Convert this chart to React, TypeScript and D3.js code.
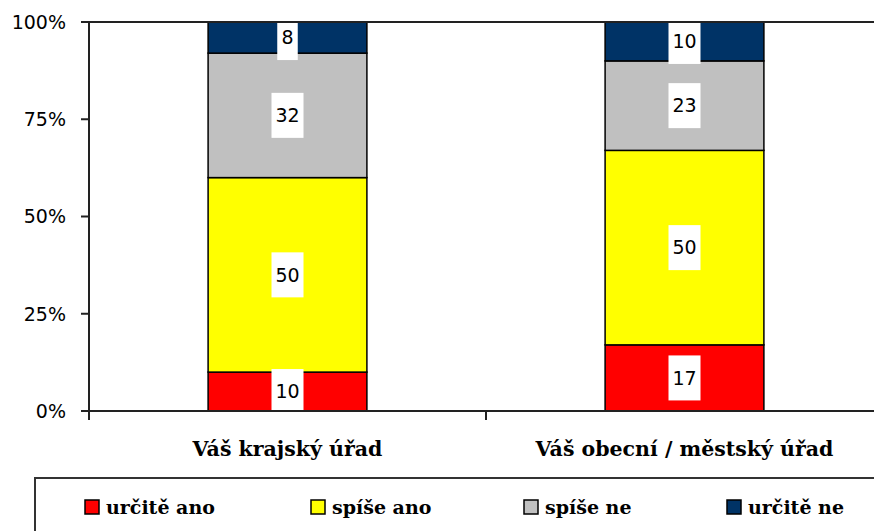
import React from "react";
import * as d3 from "d3";

const categories = ["Váš krajský úřad", "Váš obecní / městský úřad"];
const seriesNames = ["určitě ano", "spíše ano", "spíše ne", "určitě ne"];
const seriesColors = ["#FF0000", "#FFFF00", "#C0C0C0", "#003366"];
const values = [
  [10, 50, 32, 8],
  [17, 50, 23, 10],
];
const yTicks = [0, 25, 50, 75, 100];

const W = 874;
const H = 531;
const left = 89;
const right = 883;
const top = 22;
const bottom = 411;

export default function App() {
  const x = d3.scaleBand<string>().domain(categories).range([left, right]).paddingInner(0.6).paddingOuter(0.3);
  const y = d3.scaleLinear().domain([0, 100]).range([bottom, top]);
  const step = x.step();

  const stacks = categories.map((c, ci) => {
    let acc = 0;
    return values[ci].map((v, si) => {
      const y0 = acc;
      acc += v;
      return { c, si, v, y0, y1: acc };
    });
  });

  const labelFont = "DejaVu Sans, sans-serif";
  const serifFont = "DejaVu Serif, serif";
  const legendX = [85, 311, 524, 727];

  return (
    <svg width={W} height={H} style={{ position: "absolute", left: 0, top: 0, background: "#fff" }}>
      <defs>
        <clipPath id="plotclip">
          <rect x={left} y={top} width={W - left} height={bottom - top} />
        </clipPath>
      </defs>
      {/* bars */}
      {stacks.map((segs, ci) => (
        <g key={ci}>
          {segs.map((s) => (
            <rect
              key={s.si}
              x={x(s.c)!}
              y={y(s.y1)}
              width={x.bandwidth()}
              height={y(s.y0) - y(s.y1)}
              fill={seriesColors[s.si]}
              stroke="#000"
              strokeWidth={1.5}
            />
          ))}
        </g>
      ))}
      {/* labels */}
      <g clipPath="url(#plotclip)">
        {stacks.map((segs, ci) =>
          segs.map((s) => {
            const cx = x(s.c)! + x.bandwidth() / 2;
            const cy = (y(s.y0) + y(s.y1)) / 2;
            const txt = String(s.v);
            const bw = txt.length * 11.5 + 9;
            return (
              <g key={ci + "-" + s.si}>
                <rect x={cx - bw / 2} y={cy - 22.5} width={bw} height={45} fill="#fff" />
                <text x={cx} y={cy} dy="0.36em" textAnchor="middle" fontFamily={labelFont} fontSize={19} fill="#000">
                  {txt}
                </text>
              </g>
            );
          })
        )}
      </g>
      {/* plot top border */}
      <line x1={left} x2={W} y1={top} y2={top} stroke="#222" strokeWidth={2} />
      {/* y axis */}
      <line x1={left} x2={left} y1={top} y2={bottom + 9} stroke="#222" strokeWidth={2} />
      {yTicks.map((t) => (
        <g key={t}>
          <line x1={left - 8} x2={left} y1={y(t)} y2={y(t)} stroke="#222" strokeWidth={2} />
          <text x={66} y={y(t)} dy="0.36em" textAnchor="end" fontFamily={labelFont} fontSize={19} fill="#000">
            {t}%
          </text>
        </g>
      ))}
      {/* x axis */}
      <line x1={left - 8} x2={W} y1={bottom} y2={bottom} stroke="#222" strokeWidth={2} />
      {categories.map((c, i) => (
        <line key={"t" + i} x1={left + step * (i + 1)} x2={left + step * (i + 1)} y1={bottom} y2={bottom + 9} stroke="#222" strokeWidth={2} />
      ))}
      {categories.map((c) => (
        <text
          key={c}
          x={x(c)! + x.bandwidth() / 2}
          y={456}
          textAnchor="middle"
          fontFamily={serifFont}
          fontWeight="bold"
          fontSize={20.5}
          fill="#000"
        >
          {c}
        </text>
      ))}
      {/* legend */}
      <rect x={35} y={478} width={W} height={80} fill="#fff" stroke="#333" strokeWidth={2} />
      {seriesNames.map((n, i) => (
        <g key={n}>
          <rect x={legendX[i]} y={500} width={14} height={14} fill={seriesColors[i]} stroke="#000" strokeWidth={1.5} />
          <text x={legendX[i] + 21} y={514} fontFamily={serifFont} fontWeight="bold" fontSize={19} fill="#000">
            {n}
          </text>
        </g>
      ))}
    </svg>
  );
}
